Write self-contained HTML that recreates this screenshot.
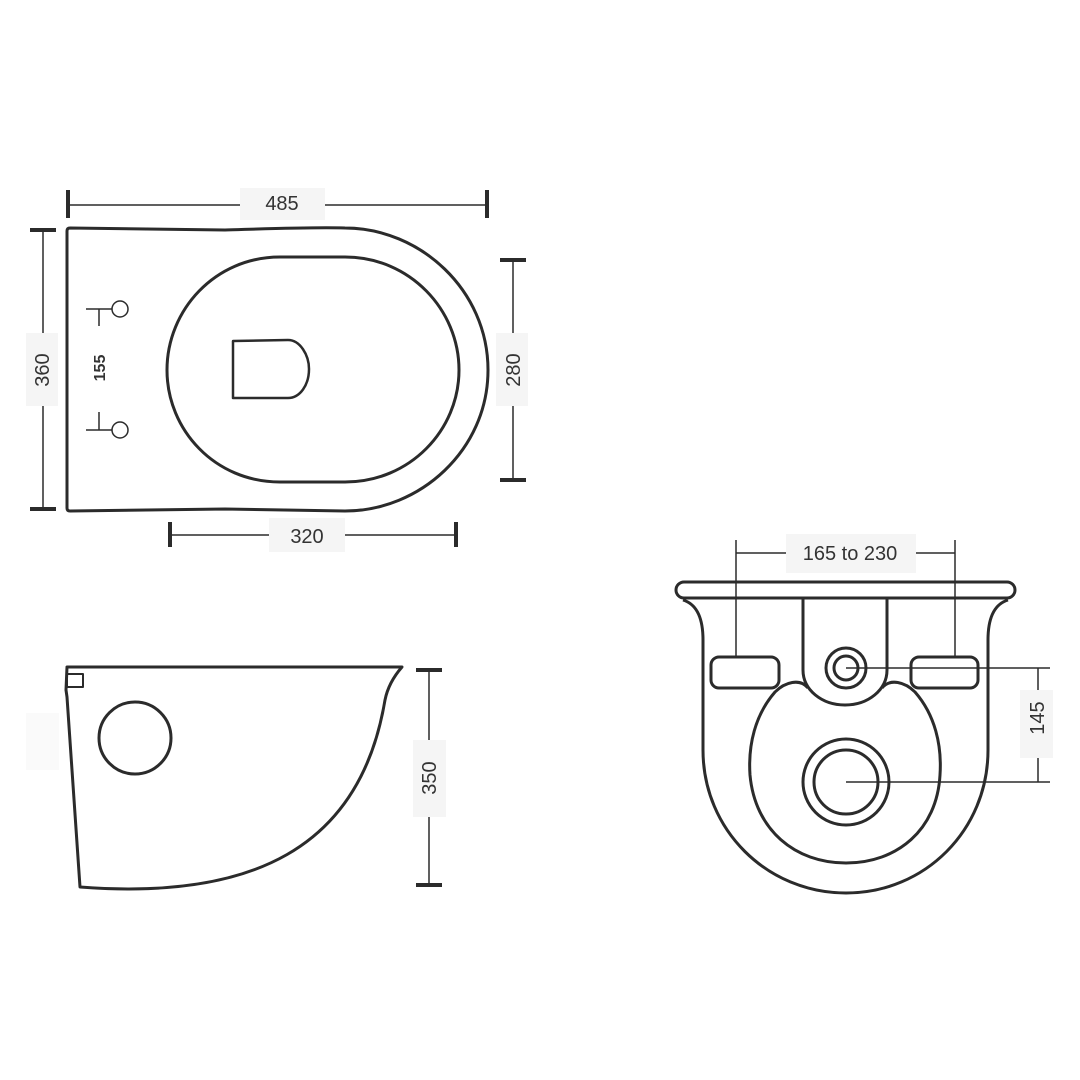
<!DOCTYPE html>
<html><head><meta charset="utf-8"><style>
html,body{margin:0;padding:0;background:#fff}
svg{display:block}
text{font-family:"Liberation Sans",sans-serif;fill:#333}
</style></head><body>
<svg width="1080" height="1080" viewBox="0 0 1080 1080" xmlns="http://www.w3.org/2000/svg">
<rect width="1080" height="1080" fill="#fff"/>
<g fill="none" stroke="#2b2b2b" stroke-width="3" stroke-linejoin="round">
<!-- top view -->
<path d="M70,228 L225,230 C260,229 310,227 345,228 C420,228 488,290 488,370 C488,450 420,511 345,511 L225,509 L70,511 Q67,511 67,508 L67,231 Q67,228 70,228 Z"/>
<path d="M280,257 L345,257 C410,257 459,310 459,370 C459,430 410,482 345,482 L280,482 C215,482 167,430 167,370 C167,310 215,257 280,257Z"/>
<path d="M233,341 L288,340 C300,340 309,355 309,369 C309,385 300,398 288,398 L233,398 Z" stroke-width="2.5"/>
<!-- side view -->
<path d="M67,667 L402,667 C395,675 388,685 385,700 C360,850 250,900 80,887 L67,697 L66,690 Z"/>
<rect x="67" y="674" width="16" height="13" stroke-width="2"/>
<circle cx="135" cy="738" r="36"/>
<!-- front view -->
<rect x="676" y="582" width="339" height="16" rx="8"/>
<path d="M683,600 Q703,606 703,640 L703,750 C703,830 767,893 846,893 C925,893 988,830 988,750 L988,640 Q988,606 1008,600"/>
<path d="M803,598 L803,670 C803,690 822,705 845,705 C868,705 887,690 887,670 L887,598"/>
<path d="M808,688 C800,678 785,682 775,692 C755,715 748,745 750,775 C755,830 795,863 846,863 C897,863 937,830 940,775 C942,745 935,715 915,692 C905,682 890,678 882,688"/>
<circle cx="846" cy="668" r="20"/>
<circle cx="846" cy="668" r="12"/>
<circle cx="846" cy="782" r="43"/>
<circle cx="846" cy="782" r="32"/>
<rect x="711" y="657" width="68" height="31" rx="8"/>
<rect x="911" y="657" width="67" height="31" rx="8"/>
</g>
<g fill="none" stroke="#2b2b2b" stroke-width="1.5">
<circle cx="120" cy="309" r="8"/>
<path d="M86,309 H112 M99,309 V326"/>
<circle cx="120" cy="430" r="8"/>
<path d="M86,430 H112 M99,412 V430"/>
<!-- dims -->
<path d="M68,205 H487 M43,230 V510 M513,260 V480 M170,535 H456 M429,670 V885"/>
<path d="M736,540 V657 M955,540 V657 M736,553 H955 M846,668 H1050 M846,782 H1050 M1038,668 V782"/>
</g>
<g stroke="#2b2b2b" stroke-width="4">
<path d="M68,190 V218 M487,190 V218 M30,230 H56 M30,509 H56 M500,260 H526 M500,480 H526 M170,522 V547 M456,522 V547 M416,670 H442 M416,885 H442"/>
</g>
<g fill="#f5f5f5">
<rect x="240" y="188" width="85" height="32"/>
<rect x="26" y="333" width="32" height="73"/>
<rect x="496" y="333" width="32" height="73"/>
<rect x="269" y="518" width="76" height="34"/>
<rect x="413" y="740" width="33" height="77"/>
<rect x="26" y="713" width="33" height="57" fill="#fafafa"/>
<rect x="786" y="534" width="130" height="39"/>
<rect x="1020" y="690" width="33" height="68"/>
</g>
<g font-size="20">
<text x="282" y="210" text-anchor="middle">485</text>
<text x="307" y="543" text-anchor="middle">320</text>
<text x="850" y="560" text-anchor="middle">165 to 230</text>
<text transform="translate(49,370) rotate(-90)" text-anchor="middle">360</text>
<text transform="translate(520,370) rotate(-90)" text-anchor="middle">280</text>
<text transform="translate(436,778) rotate(-90)" text-anchor="middle">350</text>
<text transform="translate(1044,718) rotate(-90)" text-anchor="middle">145</text>
<text transform="translate(105,368) rotate(-90)" text-anchor="middle" font-size="16" font-weight="bold">155</text>
</g>
</svg>
</body></html>
